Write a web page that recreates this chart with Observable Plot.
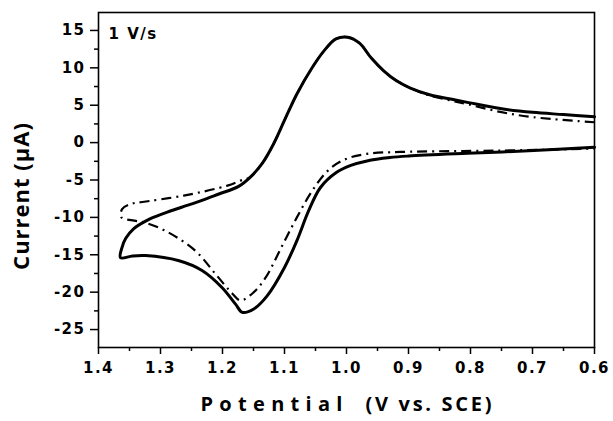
<!DOCTYPE html>
<html>
<head>
<meta charset="utf-8">
<script src="https://cdn.jsdelivr.net/npm/d3@7"></script>
<script src="https://cdn.jsdelivr.net/npm/@observablehq/plot@0.6"></script>
<style>
  body { margin: 0; background: #fff; }
</style>
</head>
<body>
<div id="chart"></div>
<script>
// Cyclic voltammograms at 1 V/s: potential (V vs. SCE) and current (µA)
const solidPotential = [
  0.600, 0.650, 0.700, 0.752, 0.803, 0.830, 0.866, 0.897, 0.920, 0.940,
  0.960, 0.979, 0.998, 1.017, 1.036, 1.055, 1.080, 1.099, 1.1177, 1.1365,
  1.1555, 1.174, 1.2058, 1.232, 1.257, 1.289, 1.305, 1.324, 1.343, 1.356,
  1.362, 1.3645,
  1.345, 1.324, 1.270, 1.233, 1.2005, 1.179, 1.168, 1.1495, 1.128,
  1.100, 1.080, 1.061, 1.042, 1.0165, 0.993, 0.967, 0.930, 0.900, 0.805,
  0.698, 0.600
];
const solidCurrent = [
  3.45, 3.75, 4.05, 4.55, 5.35, 5.8, 6.4, 7.3, 8.3, 9.6,
  11.3, 13.3, 14.1, 13.87, 12.3, 10.07, 6.5, 3.17, -0.18, -2.85,
  -4.64, -5.85, -6.87, -7.7, -8.4, -9.3, -9.8, -10.5, -11.5, -12.8,
  -14.0, -15.4,
  -15.15, -15.1, -15.8, -17.1, -19.4, -21.6, -22.7, -22.25, -20.5,
  -16.7, -13.1, -9.1, -6.0, -4.0, -3.05, -2.45, -2.0, -1.8, -1.43,
  -1.07, -0.63
];
const dashPotential = [
  0.600, 0.698, 0.752, 0.803, 0.830, 0.866, 0.897, 0.920, 0.940, 0.960,
  0.979, 0.998, 1.017, 1.036, 1.055, 1.080, 1.099, 1.1177, 1.1365, 1.1555,
  1.171, 1.192, 1.2625, 1.332, 1.348, 1.362, 1.363,
  1.345, 1.327, 1.292, 1.244, 1.211, 1.184, 1.171, 1.1495, 1.130, 1.105,
  1.080, 1.055, 1.030, 1.004, 0.967, 0.913, 0.752, 0.600
];
const dashCurrent = [
  2.72, 3.39, 4.1, 5.1, 5.6, 6.3, 7.3, 8.3, 9.6, 11.3,
  13.3, 14.1, 13.87, 12.3, 10.07, 6.5, 3.17, -0.18, -2.85, -4.64,
  -5.08, -5.75, -7.09, -7.98, -8.2, -8.9, -10.0,
  -10.4, -10.66, -11.8, -14.45, -17.6, -20.2, -21.1, -20.0, -18.0, -14.0,
  -10.0, -6.4, -3.75, -2.3, -1.5, -1.25, -1.07, -0.8
];

const xMajorTicks = [1.4, 1.3, 1.2, 1.1, 1.0, 0.9, 0.8, 0.7, 0.6];
const xTickLabels = ["1.4", "1.3", "1.2", "1.1", "1.0", "0.9", "0.8", "0.7", "0.6"];
const xMinorTicks = [1.35, 1.25, 1.15, 1.05, 0.95, 0.85, 0.75, 0.65];
const yMajorTicks = [-25, -20, -15, -10, -5, 0, 5, 10, 15];
const yTickLabels = ["-25", "-20", "-15", "-10", "-5", "0", "5", "10", "15"];
const yMinorTicks = [-22.5, -17.5, -12.5, -7.5, -2.5, 2.5, 7.5, 12.5];

const solid = solidPotential.map((x, i) => ({x, y: solidCurrent[i]}));
const dashed = dashPotential.map((x, i) => ({x, y: dashCurrent[i]}));

const tickFont = "DejaVu Sans";
const titleFont = "Open Sans";

const plot = Plot.plot({
  width: 613,
  height: 421,
  marginLeft: 98,
  marginRight: 19,
  marginTop: 12,
  marginBottom: 74,
  x: {domain: [1.4, 0.6]},
  y: {domain: [-27.4, 17.4]},
  style: {fontFamily: tickFont, fontWeight: "bold", fontSize: "15px", color: "#000", background: "#fff", overflow: "visible"},
  marks: [
    Plot.axisX(xMinorTicks, {tickSize: 4, tickFormat: () => "", label: null, strokeWidth: 1.5}),
    Plot.axisX(xMajorTicks, {
      tickSize: 7, tickPadding: 8, label: null, strokeWidth: 1.5,
      tickFormat: d => xTickLabels[xMajorTicks.indexOf(d)]
    }),
    Plot.axisY(yMinorTicks, {tickSize: 4, tickFormat: () => "", label: null, strokeWidth: 1.5}),
    Plot.axisY(yMajorTicks, {
      tickSize: 8, tickPadding: 5, label: null, strokeWidth: 1.5,
      tickFormat: d => yTickLabels[yMajorTicks.indexOf(d)]
    }),
    Plot.frame({stroke: "#000", strokeWidth: 1.6}),
    Plot.line(dashed, {
      x: "x", y: "y", curve: "catmull-rom", stroke: "#000",
      strokeWidth: 2.2, strokeDasharray: "10,5,2,5", strokeLinecap: "butt"
    }),
    Plot.line(solid, {x: "x", y: "y", curve: "catmull-rom", stroke: "#000", strokeWidth: 3}),
    Plot.text(["1 V/s"], {
      frameAnchor: "top-left", dx: 10, dy: 22, textAnchor: "start", lineAnchor: "middle",
      fontSize: 15, fontWeight: "bold", fill: "#000"
    }),
    Plot.text(["Current (µA)"], {
      frameAnchor: "left", rotate: -90, dx: -77, dy: 16, textAnchor: "middle", lineAnchor: "middle",
      fontFamily: titleFont, fontSize: 22, fontWeight: "bold", fill: "#000"
    }),
    Plot.text(["Potential"], {
      frameAnchor: "bottom-left", dx: 102, dy: 57, textAnchor: "start", lineAnchor: "middle",
      fontFamily: titleFont, fontSize: 20, fontWeight: "bold", fill: "#000"
    }),
    Plot.text(["(V vs. SCE)"], {
      frameAnchor: "bottom-left", dx: 267, dy: 57, textAnchor: "start", lineAnchor: "middle",
      fontFamily: titleFont, fontSize: 20, fontWeight: "bold", fill: "#000"
    })
  ]
});

// letter spacing for the wide, spaced-out lettering
const svg = d3.select(plot);
const byText = s => svg.selectAll("text").filter(function() { return this.textContent === s; });
svg.selectAll("text").style("letter-spacing", "1.5px");
byText("Potential").style("letter-spacing", "6.3px");
byText("(V vs. SCE)").style("letter-spacing", "2.7px");
byText("Current (µA)").style("letter-spacing", "1px");

document.getElementById("chart").appendChild(plot);
</script>
</body>
</html>
